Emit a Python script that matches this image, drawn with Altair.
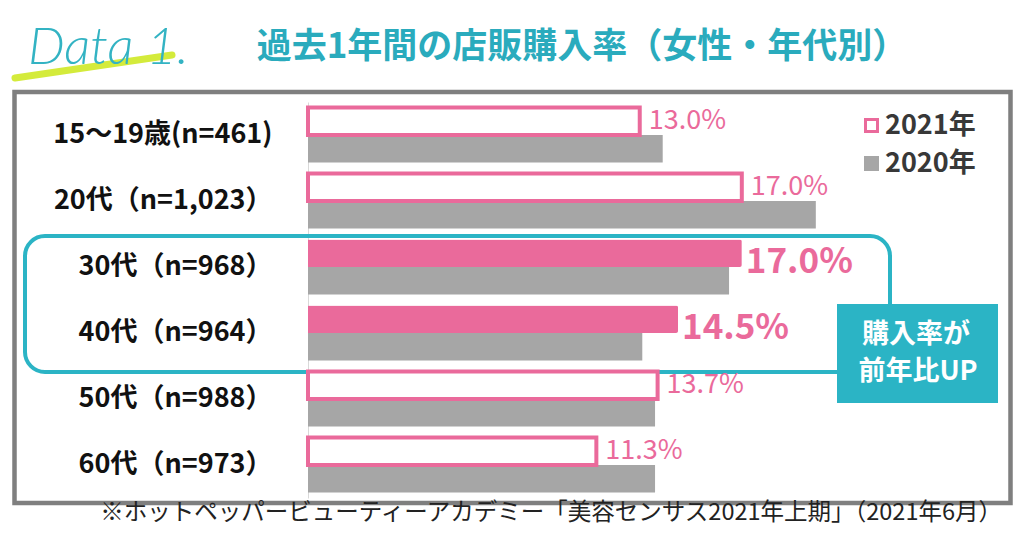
import altair as alt
import pandas as pd

# ---- data ----
ages = ["15～19歳(n=461)", "20代（n=1,023）", "30代（n=968）", "40代（n=964）", "50代（n=988）", "60代（n=973）"]
rate_2021 = [13.0, 17.0, 17.0, 14.5, 13.7, 11.3]
rate_2020 = [13.9, 19.9, 16.5, 13.1, 13.6, 13.6]
highlight = [False, False, True, True, False, False]
years = ["2021年", "2020年"]
title_text = "過去1年間の店販購入率（女性・年代別）"
brand_text = "Data 1."
callout_line1 = "購入率が"
callout_line2 = "前年比UP"
source_text = "※ホットペッパービューティーアカデミー「美容センサス2021年上期」（2021年6月）"

rows = []
for a, v1, v0, h in zip(ages, rate_2021, rate_2020, highlight):
    rows.append({"age": a, "year": years[0], "value": v1, "hl": h})
    rows.append({"age": a, "year": years[1], "value": v0, "hl": h})
df = pd.DataFrame(rows)
one = pd.DataFrame({"k": [0]})

PINK = "#ea6a9b"
GRAY = "#a6a6a6"
TEAL = "#2bb4c5"
COND = "Noto Sans CJK JP, sans-serif"
JP = "Noto Sans CJK JP"

W, H = 689, 396

y_enc = alt.Y(
    "age:N", sort=ages,
    scale=alt.Scale(paddingInner=0.167, paddingOuter=0.083),
    axis=alt.Axis(title=None, ticks=False, labelPadding=36, labelFont=COND,
                  labelFontSize=27, labelFontWeight="bold", labelColor="#111111",
                  domainColor="#d9d9d9", domainWidth=1, labelLimit=0, grid=False),
)
yoff = alt.YOffset("year:N", scale=alt.Scale(domain=years))
x_enc = alt.X("value:Q", scale=alt.Scale(domain=[0, 27], nice=False), axis=None)

legend = alt.Legend(title=None, orient="none", legendX=550, legendY=10,
                    symbolType="square", symbolSize=144, symbolStrokeWidth=3,
                    labelFont=COND, labelFontSize=27, labelFontWeight="bold",
                    labelColor="#383838", labelOffset=0, rowPadding=10, padding=0)
fill_enc = alt.Fill("year:N", scale=alt.Scale(domain=years, range=["#ffffff", GRAY]), legend=legend)
stroke_enc = alt.Stroke("year:N", scale=alt.Scale(domain=years, range=[PINK, GRAY]), legend=legend)

base = alt.Chart(df)

gray_bars = base.transform_filter(alt.datum.year == years[1]).mark_bar(strokeWidth=0).encode(
    x=x_enc, y=y_enc, yOffset=yoff, fill=fill_enc, stroke=stroke_enc)
outline_bars = base.transform_filter(alt.datum.year == years[0]).transform_filter("!datum.hl").mark_bar(
    strokeWidth=4).encode(x=x_enc, y=y_enc, yOffset=yoff, fill=fill_enc, stroke=stroke_enc)
filled_bars = base.transform_filter(alt.datum.year == years[0]).transform_filter("datum.hl").mark_bar(
    color=PINK, cornerRadiusEnd=2).encode(x=x_enc, y=y_enc, yOffset=yoff)

lab = base.transform_filter(alt.datum.year == years[0]).transform_calculate(
    label="format(datum.value, '.1f') + '%'")
normal_lab = lab.transform_filter("!datum.hl").mark_text(
    align="left", baseline="middle", dx=9, font=COND, fontSize=27, color=PINK).encode(
    x=x_enc, y=y_enc, yOffset=yoff, text="label:N")
hl_lab = lab.transform_filter("datum.hl").mark_text(
    align="left", baseline="middle", dx=4, dy=9, font=COND, fontSize=35, fontWeight="bold", color=PINK).encode(
    x=x_enc, y=y_enc, yOffset=yoff, text="label:N")

deco = alt.Chart(one)
frame = deco.mark_rect(fillOpacity=0, stroke="#7f7f7f", strokeWidth=4.5).encode(
    x=alt.value(-293.5), x2=alt.value(702.5), y=alt.value(-10), y2=alt.value(401))
marker = deco.mark_rule(color="#d4eb3b", strokeWidth=7, strokeCap="round").encode(
    x=alt.value(-293), x2=alt.value(-136), y=alt.value(-24), y2=alt.value(-47))
brand = deco.mark_text(align="left", baseline="alphabetic", font="Lato", fontStyle="italic",
                       fontWeight=300, fontSize=52, color="#33b3c3").encode(
    x=alt.value(-280), y=alt.value(-38), text=alt.value(brand_text))
title = deco.mark_text(align="center", baseline="middle", font=JP, fontWeight="bold",
                       fontSize=35, color="#2aabbd").encode(
    x=alt.value(274), y=alt.value(-55), text=alt.value(title_text))
callout_outline = deco.mark_rect(fillOpacity=0, stroke=TEAL, strokeWidth=4, cornerRadius=20).encode(
    x=alt.value(-283), x2=alt.value(582), y=alt.value(134), y2=alt.value(270))
callout_box = deco.mark_rect(color=TEAL).encode(
    x=alt.value(529), x2=alt.value(690), y=alt.value(202), y2=alt.value(301))
callout_t1 = deco.mark_text(align="center", baseline="middle", font=JP, fontWeight="bold",
                            fontSize=27, color="#ffffff").encode(
    x=alt.value(608), y=alt.value(233), text=alt.value(callout_line1))
callout_t2 = deco.mark_text(align="center", baseline="middle", font=JP, fontWeight="bold",
                            fontSize=27, color="#ffffff").encode(
    x=alt.value(610), y=alt.value(270), text=alt.value(callout_line2))
source = deco.mark_text(align="right", baseline="middle", font=JP, fontSize=23.5, color="#222222").encode(
    x=alt.value(694), y=alt.value(411), text=alt.value(source_text))

chart = alt.layer(
    frame, marker, brand, title, callout_outline,
    gray_bars, outline_bars, filled_bars, normal_lab, hl_lab,
    callout_box, callout_t1, callout_t2, source,
).properties(
    width=W, height=H,
    autosize=alt.AutoSizeParams(type="none"),
    padding={"left": 300, "top": 94, "right": 19, "bottom": 32},
).configure_view(stroke=None)

chart.save("out.html", embed_options={"renderer": "svg", "actions": False})
